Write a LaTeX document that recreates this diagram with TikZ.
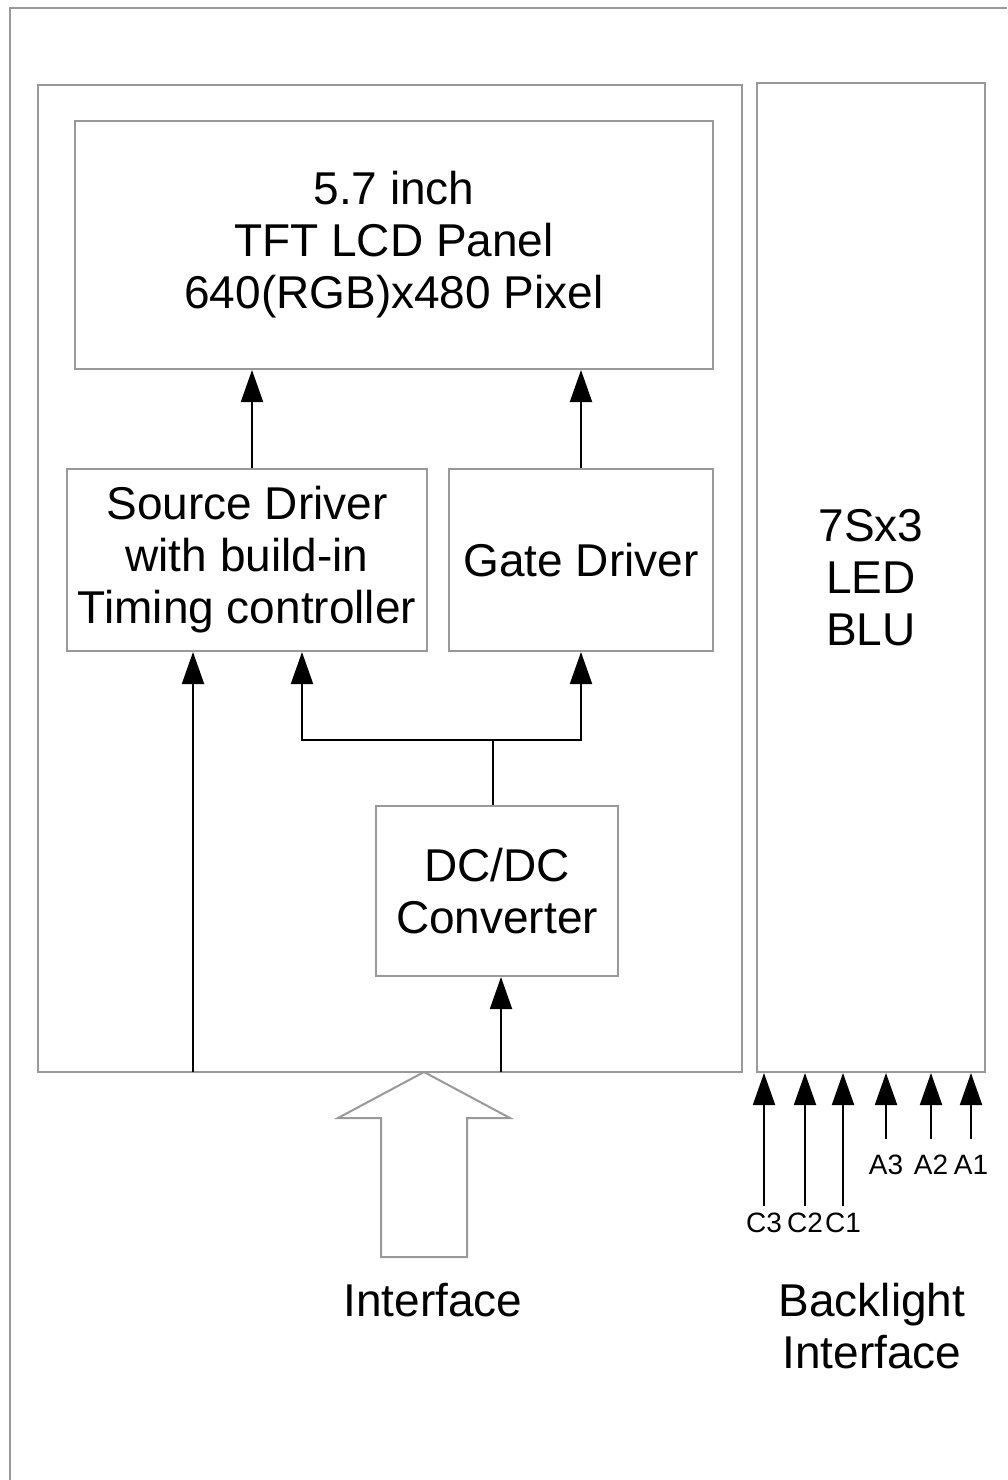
\documentclass[tikz,border=0pt]{standalone}
\usepackage{fontspec}
\setmainfont{Liberation Sans}
\usetikzlibrary{positioning,arrows.meta,calc}

\begin{document}
\begin{tikzpicture}[
    x=1pt, y=-1pt,
    font=\fontsize{46}{52}\selectfont,
    block/.style={draw=black!40, line width=2pt, align=center,
                  inner sep=0pt, fill=white},
    frame/.style={draw=black!40, line width=2pt},
    link/.style={-{Triangle[length=32pt,width=22pt]}, line width=2pt, draw=black},
    wire/.style={line width=2pt, draw=black},
    hollow/.style={draw=black!40, line width=2pt, fill=white},
    pin/.style={font=\fontsize{28}{30}\selectfont, inner sep=0pt},
]
\useasboundingbox (0,0) rectangle (1007,1480);

% ---- outer frame (cut at right and bottom) ----
\draw[frame] (1007,8.5) -- (9.5,8.5) -- (9.5,1480);

% ---- module and backlight ----
\node[block, minimum width=704pt, minimum height=987pt] (module) at (390,578.5) {};
\node[block, minimum width=228pt, minimum height=989pt] (blu) at (871,577.5)
    {7Sx3\\LED\\BLU};

% ---- blocks inside the module ----
\node[block, minimum width=638pt, minimum height=248pt] (panel) at (394,245)
    {5.7 inch\\TFT LCD Panel\\640(RGB)x480 Pixel};
\node[block, minimum width=360pt, minimum height=182pt] (src) at (247,560)
    {Source Driver\\with build-in\\Timing controller};
\node[block, minimum width=264pt, minimum height=182pt] (gate) at (581,560)
    {Gate Driver};
\node[block, minimum width=242pt, minimum height=170pt] (dcdc) at (497,891)
    {DC/DC\\Converter};

% ---- drivers to panel ----
\draw[link] ([xshift=5pt]src.north) -- ([xshift=5pt]src.north |- panel.south);
\draw[link] (gate.north) -- (gate.north |- panel.south);

% ---- DC/DC to drivers ----
\coordinate (split) at (493,740);
\coordinate (toSrc) at (302,740);
\coordinate (toGate) at (581,740);
\draw[wire] (dcdc.north -| split) -- (split);
\draw[link] (split) -- (toSrc) -- (toSrc |- src.south);
\draw[link] (split) -- (toGate) -- (toGate |- gate.south);

% ---- interface inputs ----
\coordinate (inSrc) at (193,1072);
\coordinate (inDc) at (501,1072);
\draw[link] (inSrc) -- (inSrc |- src.south);
\draw[link] (inDc) -- (inDc |- dcdc.south);

% ---- interface arrow ----
\draw[hollow] (424,1072) -- (510,1118) -- (467,1118) -- (467,1257)
    -- (381,1257) -- (381,1118) -- (338,1118) -- cycle;
\node (iface) at (433,1300) {Interface};

% ---- backlight pins ----
\foreach \name/\x/\y/\ly in {C3/764/1206/1223, C2/805/1206/1223, C1/843/1206/1223,
                             A3/886/1139/1165, A2/931/1139/1165, A1/971/1139/1165} {
    \coordinate (p\name) at (\x,\y);
    \draw[link] (p\name) -- (p\name |- blu.south);
    \node[pin] (l\name) at (\x,\ly) {\name};
}
\node[align=center] (bliface) at (872,1326) {Backlight\\Interface};

\end{tikzpicture}
\end{document}
